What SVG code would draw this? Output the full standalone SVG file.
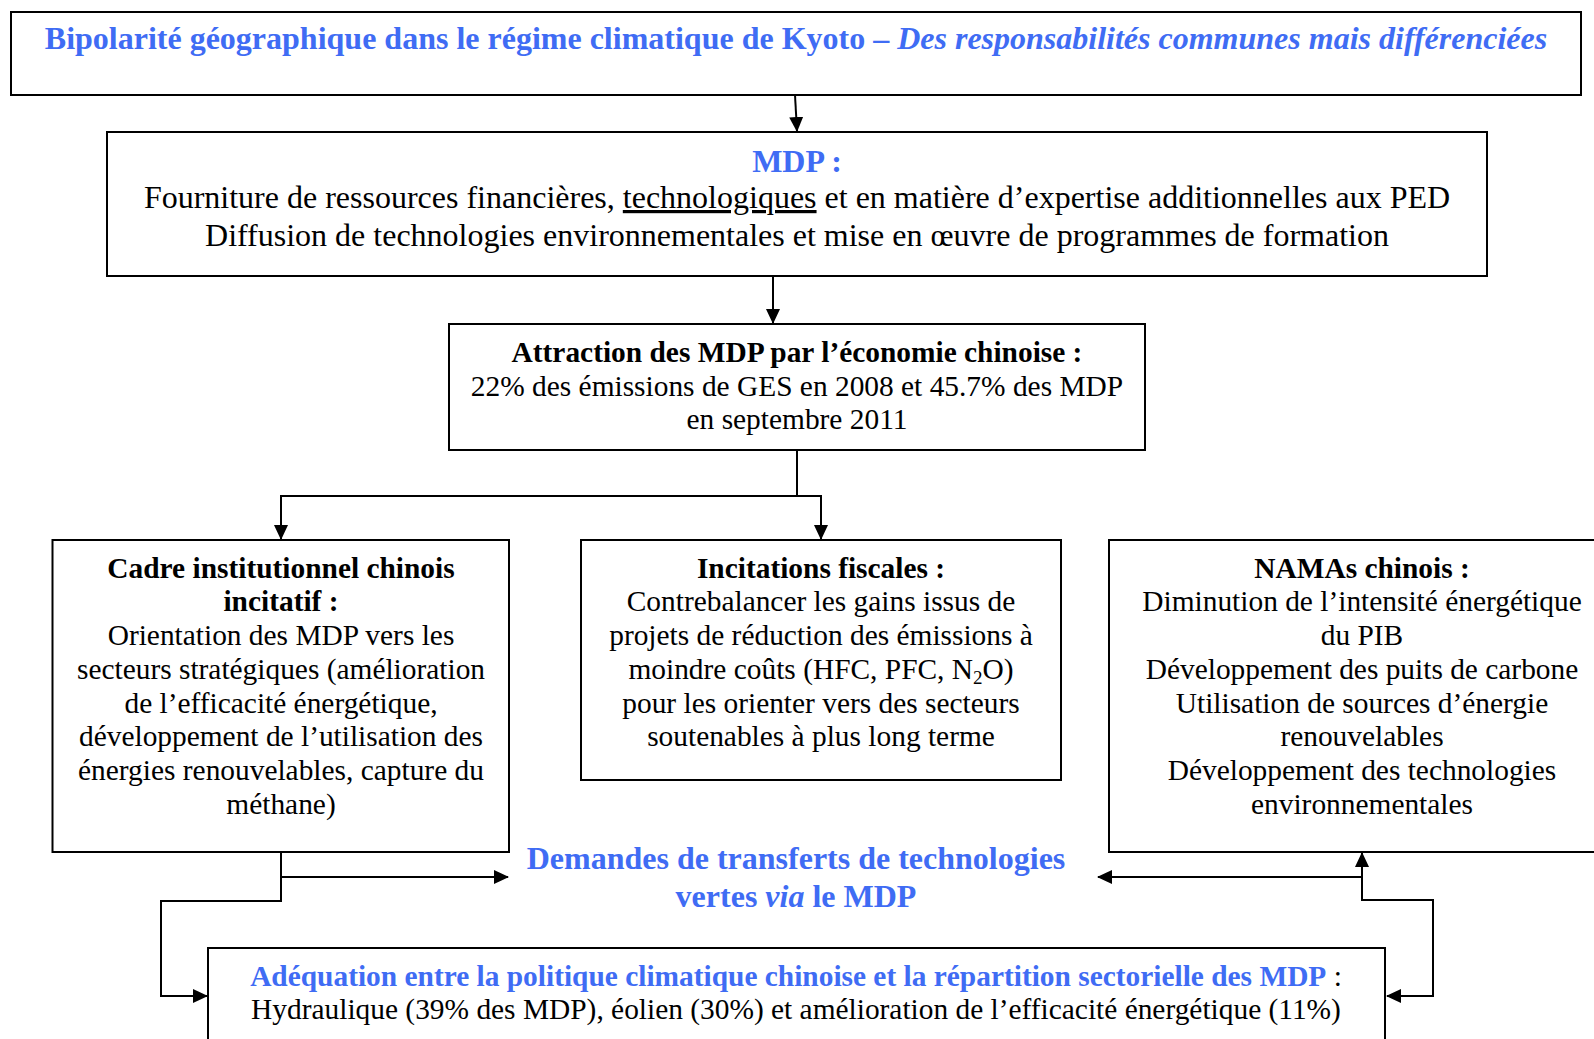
<svg xmlns="http://www.w3.org/2000/svg" width="1594" height="1039" viewBox="0 0 1594 1039">
<defs>
<style>
.box{fill:#fff;stroke:#000;stroke-width:2}
.t{font-family:"Liberation Serif","Times New Roman",serif;font-size:29.4px;fill:#000;text-anchor:middle}
.b{font-weight:bold}
.i{font-style:italic}
.n{font-weight:normal;fill:#000}
.blue{fill:#3F6CF4}
.big{font-size:32px}
.c{fill:none;stroke:#000;stroke-width:2}
</style>
<marker id="ah" markerWidth="15" markerHeight="14" refX="14" refY="7" orient="auto" markerUnits="userSpaceOnUse">
<path d="M0,0 L15,7 L0,14 z" fill="#000"/>
</marker>
</defs>
<rect width="1594" height="1039" fill="#fff"/>

<g id="connectors">
<line class="c" x1="795" y1="95" x2="797" y2="131" marker-end="url(#ah)"/>
<line class="c" x1="773" y1="276" x2="773" y2="323" marker-end="url(#ah)"/>
<polyline class="c" points="797,451 797,496 281,496 281,539" marker-end="url(#ah)"/>
<polyline class="c" points="797,496 821,496 821,539" marker-end="url(#ah)"/>
<polyline class="c" points="281,852 281,877 508,877" marker-end="url(#ah)"/>
<polyline class="c" points="281,877 281,901 161,901 161,996 207,996" marker-end="url(#ah)"/>
<polyline class="c" points="1362,877 1362,900 1433,900 1433,996 1387,996" marker-end="url(#ah)"/>
<line class="c" x1="1362" y1="900" x2="1362" y2="853" marker-end="url(#ah)"/>
<line class="c" x1="1362" y1="877" x2="1098" y2="877" marker-end="url(#ah)"/>
</g>

<g id="title">
<rect class="box" x="11" y="12" width="1570" height="83"/>
<text class="t b blue big" x="796" y="49">Bipolarité géographique dans le régime climatique de Kyoto – <tspan class="i">Des responsabilités communes mais différenciées</tspan></text>
</g>

<g id="mdp">
<rect class="box" x="107" y="132" width="1380" height="144"/>
<text class="t b blue big" x="797" y="172">MDP :</text>
<text class="t big" x="797" y="208">Fourniture de ressources financières, <tspan text-decoration="underline">technologiques</tspan> et en matière d’expertise additionnelles aux PED</text>
<text class="t big" x="797" y="246">Diffusion de technologies environnementales et mise en œuvre de programmes de formation</text>
</g>

<g id="attraction">
<rect class="box" x="449" y="324" width="696" height="126"/>
<text class="t b" x="797" y="362">Attraction des MDP par l’économie chinoise :</text>
<text class="t" x="797" y="396">22% des émissions de GES en 2008 et 45.7% des MDP</text>
<text class="t" x="797" y="429">en septembre 2011</text>
</g>

<g id="cadre">
<rect class="box" x="52.5" y="540" width="456.5" height="312"/>
<text class="t b" x="281" y="577.5">Cadre institutionnel chinois</text>
<text class="t b" x="281" y="611.3">incitatif :</text>
<text class="t" x="281" y="645">Orientation des MDP vers les</text>
<text class="t" x="281" y="678.8">secteurs stratégiques (amélioration</text>
<text class="t" x="281" y="712.6">de l’efficacité énergétique,</text>
<text class="t" x="281" y="746.4">développement de l’utilisation des</text>
<text class="t" x="281" y="780.2">énergies renouvelables, capture du</text>
<text class="t" x="281" y="814">méthane)</text>
</g>

<g id="incitations">
<rect class="box" x="581" y="540" width="480" height="240"/>
<text class="t b" x="821" y="577.5">Incitations fiscales :</text>
<text class="t" x="821" y="611.3">Contrebalancer les gains issus de</text>
<text class="t" x="821" y="645">projets de réduction des émissions à</text>
<text class="t" x="821" y="678.8">moindre coûts (HFC, PFC, N<tspan font-size="19" dy="5">2</tspan><tspan dy="-5">O)</tspan></text>
<text class="t" x="821" y="712.6">pour les orienter vers des secteurs</text>
<text class="t" x="821" y="746.4">soutenables à plus long terme</text>
</g>

<g id="namas">
<rect class="box" x="1109" y="540" width="510" height="312"/>
<text class="t b" x="1362" y="577.5">NAMAs chinois :</text>
<text class="t" x="1362" y="611.3">Diminution de l’intensité énergétique</text>
<text class="t" x="1362" y="645">du PIB</text>
<text class="t" x="1362" y="678.8">Développement des puits de carbone</text>
<text class="t" x="1362" y="712.6">Utilisation de sources d’énergie</text>
<text class="t" x="1362" y="746.4">renouvelables</text>
<text class="t" x="1362" y="780.2">Développement des technologies</text>
<text class="t" x="1362" y="814">environnementales</text>
</g>

<g id="demandes">
<text class="t b blue big" x="796" y="869">Demandes de transferts de technologies</text>
<text class="t b blue big" x="796" y="907">vertes <tspan class="i">via</tspan> le MDP</text>
</g>

<g id="adequation">
<rect class="box" x="208" y="948" width="1177" height="120"/>
<text class="t b blue" x="796" y="986">Adéquation entre la politique climatique chinoise et la répartition sectorielle des MDP<tspan class="n"> :</tspan></text>
<text class="t" x="796" y="1019">Hydraulique (39% des MDP), éolien (30%) et amélioration de l’efficacité énergétique (11%)</text>
</g>
</svg>
